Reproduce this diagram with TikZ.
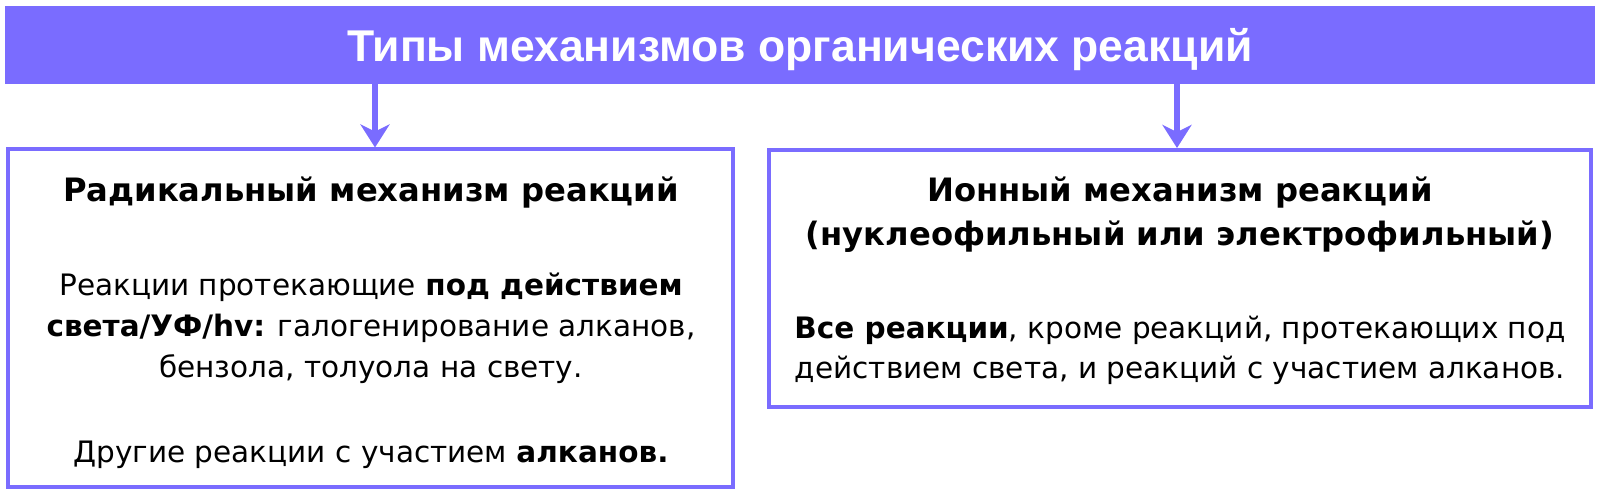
\documentclass[tikz,border=0pt]{standalone}
\usepackage{fontspec}
\setmainfont{DejaVu Sans}
\newfontfamily\titlefont{Liberation Sans}
\usetikzlibrary{arrows.meta}
\definecolor{vio}{RGB}{122,108,255}
\begin{document}
\begin{tikzpicture}[x=1pt,y=-1pt,
  barbox/.style={fill=vio, draw=none, minimum width=1590pt, minimum height=78pt, inner sep=0pt},
  titletext/.style={anchor=base, text=white, inner sep=0pt, font=\titlefont\bfseries\fontsize{44.5}{52}\selectfont},
  framebox/.style={draw=vio, line width=4pt, fill=white, inner sep=0pt},
  headtext/.style={anchor=base, inner sep=0pt, font=\bfseries\fontsize{32.2}{38}\selectfont},
  bodytext/.style={anchor=base, inner sep=0pt, font=\fontsize{29.5}{35}\selectfont},
  arr/.style={draw=vio, line width=6.5pt, -{Stealth[length=23pt,width=29pt,inset=7pt]}}
]
\useasboundingbox (0,0) rectangle (1600,497);
\node[barbox] (bar) at (800,45) {};
\node[titletext] (title) at (800,62) {Типы механизмов органических реакций};
\node[framebox, minimum width=725pt, minimum height=337.5pt] (lbox) at (370.5,318.25) {};
\node[framebox, minimum width=822.5pt, minimum height=256.5pt] (rbox) at (1179.75,278.25) {};
\coordinate (la) at (375,0);
\coordinate (ra) at (1177,0);
\draw[arr] (bar.south -| la) -- (lbox.north -| la);
\draw[arr] (bar.south -| ra) -- (rbox.north -| ra);
% left box texts
\node[headtext] (lh) at (371,202) {Радикальный механизм реакций};
\node[bodytext] (l1) at (371,295) {Реакции протекающие \textbf{под действием}};
\node[bodytext] (l2) at (371,336) {\textbf{света/УФ/hv:} галогенирование алканов,};
\node[bodytext] (l3) at (371,377) {бензола, толуола на свету.};
\node[bodytext] (l4) at (371,462) {Другие реакции с участием \textbf{алканов.}};
% right box texts
\node[headtext] (rh1) at (1180,202) {Ионный механизм реакций};
\node[headtext] (rh2) at (1180,245) {(нуклеофильный или электрофильный)};
\node[bodytext] (r1) at (1180,338) {\textbf{Все реакции}, кроме реакций, протекающих под};
\node[bodytext] (r2) at (1180,378) {действием света, и реакций с участием алканов.};
\end{tikzpicture}
\end{document}
